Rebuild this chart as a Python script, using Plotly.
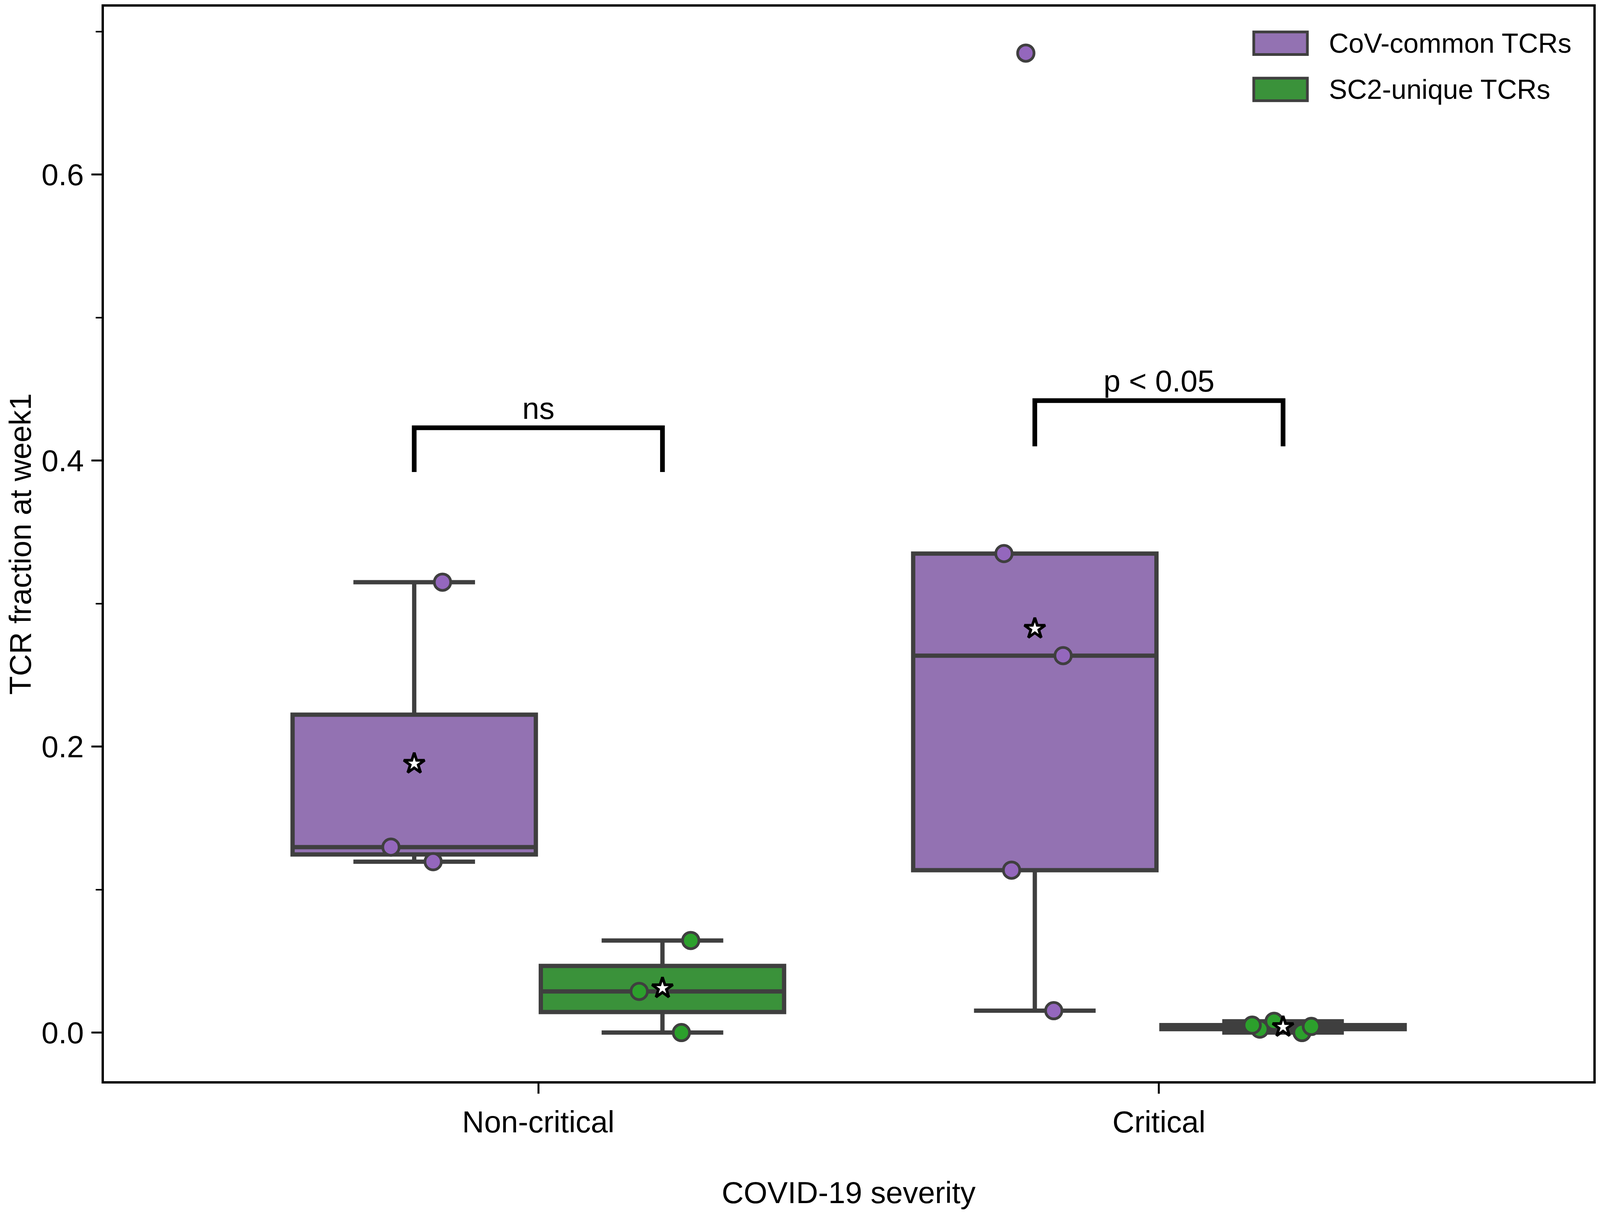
import numpy as np
import plotly.graph_objects as go

# categories and series
categories = ["Non-critical", "Critical"]
groups = ["CoV-common TCRs", "SC2-unique TCRs"]

# TCR fraction at week1, one value per donor
cov_noncritical = [0.315, 0.1297, 0.1195]
cov_critical = [0.685, 0.335, 0.2636, 0.1136, 0.0153]
sc2_noncritical = [0.0644, 0.0288, 0.0]
sc2_critical = [0.0052, 0.0043, 0.0079, 0.0, 0.0024]

# significance brackets
bracket_labels = ["ns", "p < 0.05"]
bracket_top = [0.423, 0.442]
bracket_bottom = [0.392, 0.410]

# styles
box_fill = ["#9372b2", "#3a923a"]
point_color = ["#9467bd", "#2ca02c"]
edge = "#3f3f3f"
FONT = "Liberation Sans, Arial, Helvetica, sans-serif"
FS = 78
LEFT = 258  # left margin, px

series = [[cov_noncritical, cov_critical], [sc2_noncritical, sc2_critical]]
width = 0.8  # seaborn-like dodge width
offsets = [-width / 4, width / 4]

fig = go.Figure()

for g, name in enumerate(groups):
    for c, cat in enumerate(categories):
        vals = series[g][c]
        pos = c + offsets[g]
        fig.add_trace(
            go.Box(
                x=[pos] * len(vals),
                y=vals,
                name=name,
                width=width / 2 * 0.98,
                boxpoints="all",
                pointpos=0,
                jitter=0.3,
                quartilemethod="inclusive",
                whiskerwidth=0.5,
                fillcolor=box_fill[g],
                line=dict(color=edge, width=11),
                marker=dict(
                    color=point_color[g],
                    size=42,
                    line=dict(color=edge, width=7),
                ),
                showlegend=False,
            )
        )
        # mean marker
        fig.add_trace(
            go.Scatter(
                x=[pos],
                y=[np.mean(vals)],
                mode="markers",
                marker=dict(symbol="star", size=40, color="white", line=dict(color="black", width=7)),
                showlegend=False,
            )
        )

# brackets
for c, label in enumerate(bracket_labels):
    x0 = c + offsets[0]
    x1 = c + offsets[1]
    fig.add_trace(
        go.Scatter(
            x=[x0, x0, x1, x1],
            y=[bracket_bottom[c], bracket_top[c], bracket_top[c], bracket_bottom[c]],
            mode="lines",
            line=dict(color="black", width=12),
            showlegend=False,
        )
    )
    fig.add_annotation(
        x=c, y=bracket_top[c], text=label, showarrow=False,
        xref="x", yref="y", yanchor="bottom", yshift=4,
        font=dict(family=FONT, size=FS, color="black"),
    )

# legend drawn by hand (plotly's box icons are tiny at this size)
legend_y = [0.966, 0.923]
for g, name in enumerate(groups):
    fig.add_shape(
        type="rect", xref="x domain", yref="y domain",
        x0=0.772, x1=0.808, y0=legend_y[g] - 0.0105, y1=legend_y[g] + 0.0105,
        fillcolor=box_fill[g], line=dict(color=edge, width=7),
    )
    fig.add_annotation(
        x=0.822, y=legend_y[g], xref="x domain", yref="y domain",
        text=name, showarrow=False, xanchor="left", yanchor="middle",
        font=dict(family=FONT, size=70, color="black"),
    )

# y title as an annotation so it can sit close to the page edge
fig.add_annotation(
    x=0, y=0.5, xref="paper", yref="paper", xshift=44 - LEFT,
    text="TCR fraction at week1", textangle=-90, showarrow=False,
    xanchor="center", yanchor="middle",
    font=dict(family=FONT, size=FS, color="black"),
)

# no fixed size: let the figure fill the browser window
fig.update_layout(
    autosize=True,
    margin=dict(l=LEFT, r=8, t=3, b=337),
    plot_bgcolor="white",
    paper_bgcolor="white",
    font=dict(family=FONT, size=FS, color="black"),
    showlegend=False,
)
fig.update_xaxes(
    range=[-0.7, 1.7],
    tickvals=[0, 1],
    ticktext=categories,
    ticks="outside",
    ticklen=26,
    tickwidth=5,
    tickcolor="black",
    ticklabelstandoff=6,
    showline=True,
    mirror=True,
    linewidth=5.5,
    linecolor="black",
    showgrid=False,
    zeroline=False,
    title=dict(text="COVID-19 severity", standoff=112, font=dict(size=FS)),
)
fig.update_yaxes(
    range=[-0.034, 0.7175],
    tickvals=[0.0, 0.2, 0.4, 0.6],
    tickformat=".1f",
    ticks="outside",
    ticklen=26,
    tickwidth=5,
    tickcolor="black",
    ticklabelstandoff=4,
    minor=dict(dtick=0.1, tick0=0, ticks="outside", ticklen=15, tickwidth=4, tickcolor="black"),
    showline=True,
    mirror=True,
    linewidth=5.5,
    linecolor="black",
    showgrid=False,
    zeroline=False,
)

fig.write_html("out.html")
